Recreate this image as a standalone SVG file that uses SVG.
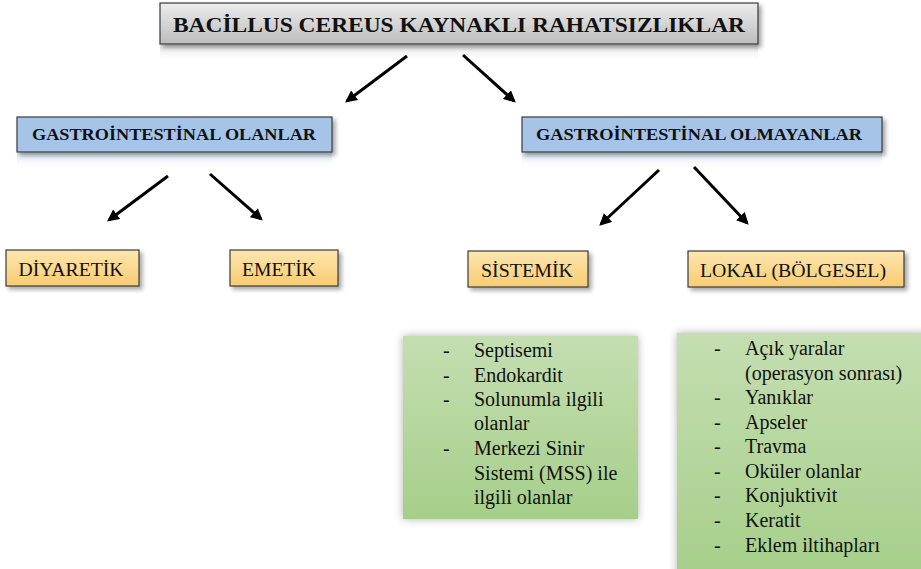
<svg xmlns="http://www.w3.org/2000/svg" width="921" height="569" viewBox="0 0 921 569">
<style>
text{fill:#111;font-family:'Liberation Serif','Times New Roman',serif}
.b{font-weight:bold}
.box{stroke:#3a3a3a;stroke-width:1.2}
.arr{stroke:#000;stroke-width:3;fill:none;marker-end:url(#ah)}
.li{font-size:20px}
</style>
<defs>
<linearGradient id="gGrey" x1="0" y1="0" x2="0" y2="1"><stop offset="0" stop-color="#ececec"/><stop offset="1" stop-color="#bdbdbd"/></linearGradient>
<linearGradient id="gOr" x1="0" y1="0" x2="0" y2="1"><stop offset="0" stop-color="#fde6ae"/><stop offset="1" stop-color="#f8cc72"/></linearGradient>
<linearGradient id="gGr" x1="0" y1="0" x2="0" y2="1"><stop offset="0" stop-color="#c4deb1"/><stop offset="1" stop-color="#a6cf8a"/></linearGradient>
<linearGradient id="gRefG" x1="0" y1="0" x2="0" y2="1"><stop offset="0" stop-color="#d8d8d8" stop-opacity="0.8"/><stop offset="1" stop-color="#ffffff" stop-opacity="0"/></linearGradient>
<linearGradient id="gRefB" x1="0" y1="0" x2="0" y2="1"><stop offset="0" stop-color="#c9dcf0" stop-opacity="0.8"/><stop offset="1" stop-color="#ffffff" stop-opacity="0"/></linearGradient>
<filter id="sh" x="-10%" y="-20%" width="130%" height="150%"><feDropShadow dx="3" dy="3" stdDeviation="2" flood-color="#000" flood-opacity="0.35"/></filter>
<filter id="glow" x="-10%" y="-10%" width="120%" height="120%"><feDropShadow dx="0" dy="0" stdDeviation="4" flood-color="#000" flood-opacity="0.3"/></filter>
<marker id="ah" viewBox="0 0 10 10" refX="8" refY="5" markerWidth="4" markerHeight="4" orient="auto" markerUnits="strokeWidth"><path d="M0,0 L10,5 L0,10 z" fill="#000"/></marker>
</defs>

<g id="title">
<rect x="160" y="45" width="598" height="18" fill="url(#gRefG)"/>
<rect class="box" x="160" y="3" width="598" height="41" fill="url(#gGrey)" filter="url(#sh)"/>
<text class="b" x="459" y="32" font-size="21" text-anchor="middle" textLength="572" lengthAdjust="spacingAndGlyphs">BACİLLUS CEREUS KAYNAKLI RAHATSIZLIKLAR</text>
</g>

<g id="gi">
<rect x="17" y="153" width="315" height="16" fill="url(#gRefB)"/>
<rect class="box" x="17" y="117" width="315" height="35" fill="#a5c4e7" filter="url(#sh)"/>
<text class="b" x="174" y="140" font-size="17" text-anchor="middle" textLength="284" lengthAdjust="spacingAndGlyphs">GASTROİNTESTİNAL  OLANLAR</text>
</g>

<g id="ngi">
<rect x="522" y="153" width="360" height="16" fill="url(#gRefB)"/>
<rect class="box" x="522" y="117" width="360" height="35" fill="#a5c4e7" filter="url(#sh)"/>
<text class="b" x="699" y="140" font-size="17" text-anchor="middle" textLength="326" lengthAdjust="spacingAndGlyphs">GASTROİNTESTİNAL  OLMAYANLAR</text>
</g>

<g id="diyaretik">
<rect class="box" x="6" y="250" width="133" height="36" fill="url(#gOr)" filter="url(#sh)"/>
<text x="71" y="276" font-size="19" text-anchor="middle" textLength="105" lengthAdjust="spacingAndGlyphs">DİYARETİK</text>
</g>

<g id="emetik">
<rect class="box" x="230" y="250" width="108" height="36" fill="url(#gOr)" filter="url(#sh)"/>
<text x="279" y="276" font-size="19" text-anchor="middle" textLength="74" lengthAdjust="spacingAndGlyphs">EMETİK</text>
</g>

<g id="sistemik">
<rect class="box" x="468" y="251" width="120" height="36" fill="url(#gOr)" filter="url(#sh)"/>
<text x="527" y="277" font-size="19" text-anchor="middle" textLength="92" lengthAdjust="spacingAndGlyphs">SİSTEMİK</text>
</g>

<g id="lokal">
<rect class="box" x="688" y="251" width="216" height="36" fill="url(#gOr)" filter="url(#sh)"/>
<text x="793" y="277" font-size="19" text-anchor="middle" textLength="186" lengthAdjust="spacingAndGlyphs">LOKAL (BÖLGESEL)</text>
</g>

<g id="list-sistemik">
<rect x="403" y="336" width="235" height="183" fill="url(#gGr)" filter="url(#glow)"/>
<g class="li">
<text x="443" y="357">-</text><text x="474" y="357">Septisemi</text>
<text x="443" y="382">-</text><text x="474" y="382">Endokardit</text>
<text x="443" y="406">-</text><text x="474" y="406">Solunumla ilgili</text>
<text x="474" y="430">olanlar</text>
<text x="443" y="455">-</text><text x="474" y="455">Merkezi Sinir</text>
<text x="474" y="480">Sistemi (MSS) ile</text>
<text x="474" y="504">ilgili olanlar</text>
</g>
</g>

<g id="list-lokal">
<rect x="677" y="333" width="250" height="245" fill="url(#gGr)" filter="url(#glow)"/>
<g class="li">
<text x="714" y="355">-</text><text x="745" y="355">Açık yaralar</text>
<text x="745" y="380">(operasyon sonrası)</text>
<text x="714" y="404">-</text><text x="745" y="404">Yanıklar</text>
<text x="714" y="429">-</text><text x="745" y="429">Apseler</text>
<text x="714" y="453">-</text><text x="745" y="453">Travma</text>
<text x="714" y="478">-</text><text x="745" y="478">Oküler olanlar</text>
<text x="714" y="502">-</text><text x="745" y="502">Konjuktivit</text>
<text x="714" y="527">-</text><text x="745" y="527">Keratit</text>
<text x="714" y="552">-</text><text x="745" y="552">Eklem iltihapları</text>
</g>
</g>

<g id="connectors">
<line class="arr" x1="407" y1="56" x2="347" y2="101"/>
<line class="arr" x1="463" y1="55" x2="514" y2="101"/>
<line class="arr" x1="168" y1="176" x2="109" y2="220"/>
<line class="arr" x1="210" y1="174" x2="261" y2="219"/>
<line class="arr" x1="659" y1="170" x2="601" y2="224"/>
<line class="arr" x1="694" y1="167" x2="747" y2="223"/>
</g>
</svg>
